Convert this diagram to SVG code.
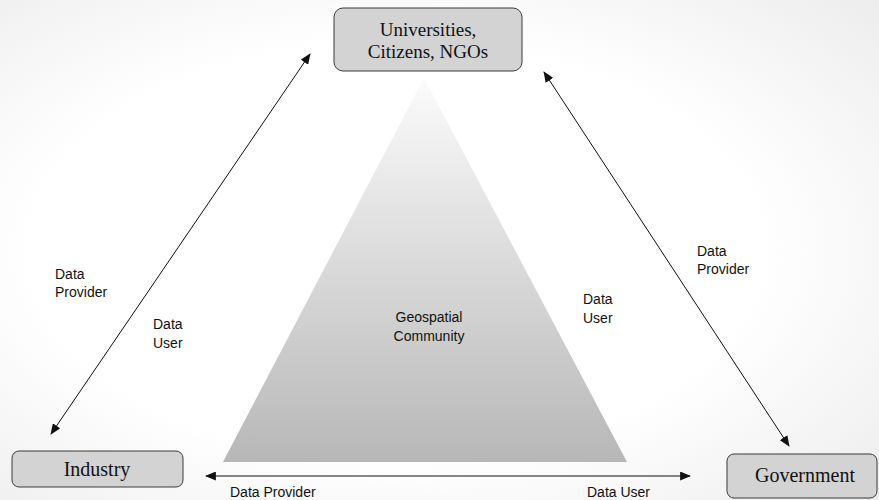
<svg xmlns="http://www.w3.org/2000/svg" width="879" height="500" viewBox="0 0 879 500">
<style>
.box{fill:#d3d3d3;stroke:#3a3a3a;stroke-width:1}
.bt{font-family:"Liberation Serif","DejaVu Serif",serif;font-size:19px;fill:#111;text-anchor:middle}
.bt1{font-size:20px}
.lb{font-family:"Liberation Sans",Arial,sans-serif;font-size:14px;fill:#111}
.ln{stroke:#111;stroke-width:1;fill:none;marker-start:url(#ah);marker-end:url(#ah)}
</style>
<defs>
<radialGradient id="bg" cx="0.45" cy="0.5" r="0.75">
<stop offset="0.55" stop-color="#ffffff"/>
<stop offset="1" stop-color="#ececec"/>
</radialGradient>
<linearGradient id="tri" x1="0" y1="0" x2="0" y2="1">
<stop offset="0" stop-color="#fbfbfb"/>
<stop offset="1" stop-color="#b7b7b7"/>
</linearGradient>
<marker id="ah" viewBox="0 0 12 10" refX="11" refY="5" markerWidth="11" markerHeight="9" markerUnits="userSpaceOnUse" orient="auto-start-reverse">
<path d="M0,0 L12,5 L0,10 z" fill="#111"/>
</marker>
</defs>
<rect width="879" height="500" fill="url(#bg)"/>
<g id="community">
<polygon points="424,78 223,462 627,462" fill="url(#tri)"/>
<text class="lb" x="429" y="322" text-anchor="middle">Geospatial</text>
<text class="lb" x="429" y="341" text-anchor="middle">Community</text>
</g>
<g id="connectors">
<line class="ln" x1="51" y1="434" x2="310" y2="54"/>
<line class="ln" x1="789" y1="446" x2="544" y2="72"/>
<line class="ln" x1="206" y1="476" x2="690" y2="476"/>
<text class="lb" x="55" y="279">Data</text>
<text class="lb" x="55" y="297">Provider</text>
<text class="lb" x="153" y="329">Data</text>
<text class="lb" x="153" y="348">User</text>
<text class="lb" x="583" y="304">Data</text>
<text class="lb" x="583" y="323">User</text>
<text class="lb" x="697" y="256">Data</text>
<text class="lb" x="697" y="274">Provider</text>
<text class="lb" x="230" y="497">Data Provider</text>
<text class="lb" x="587" y="497">Data User</text>
</g>
<g id="universities">
<rect class="box" x="334" y="8" width="188" height="63" rx="9"/>
<text class="bt" x="428" y="36">Universities,</text>
<text class="bt" x="428" y="58">Citizens, NGOs</text>
</g>
<g id="industry">
<rect class="box" x="12" y="451" width="171" height="36" rx="7"/>
<text class="bt bt1" x="97" y="476">Industry</text>
</g>
<g id="government">
<rect class="box" x="727" y="454" width="150" height="44" rx="7"/>
<text class="bt bt1" x="805" y="482">Government</text>
</g>
</svg>
